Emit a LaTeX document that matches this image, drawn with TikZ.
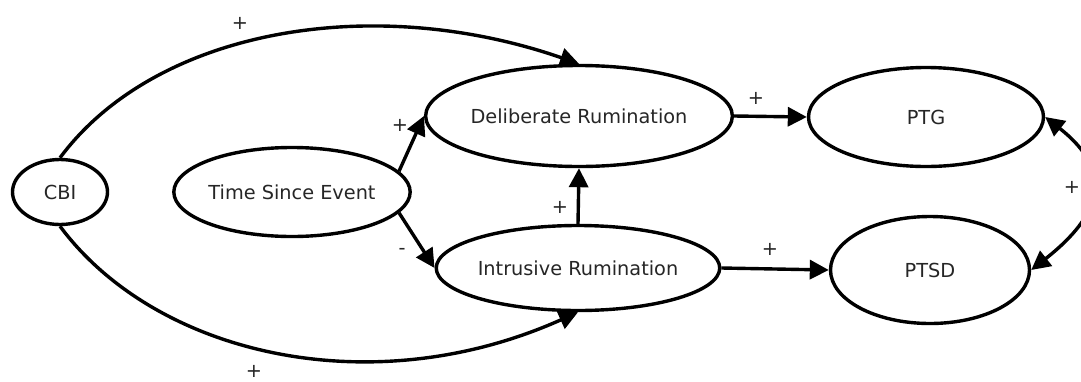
\documentclass[tikz,border=0pt]{standalone}
\usepackage{fontspec}
\setmainfont{DejaVu Sans}
\usetikzlibrary{arrows.meta,shapes.geometric}
\begin{document}
\begin{tikzpicture}[x=1pt,y=-1pt,
  every node/.style={font=\fontsize{19.3}{23}\selectfont, text=black!85},
  oval/.style={ellipse, draw=black, line width=3.4pt, inner sep=0pt},
  conn/.style={line width=3.4pt, -{Triangle[length=19pt,width=19pt]}},
  both/.style={line width=3.4pt, {Triangle[length=19pt,width=19pt]}-{Triangle[length=19pt,width=19pt]}},
  lbl/.style={inner sep=0pt}]
\fill[white] (0,0) rectangle (1081,381);
\useasboundingbox (0,0) rectangle (1081,381);
\node[oval, minimum width=95pt, minimum height=65pt] (cbi) at (60,192) {CBI};
\node[oval, minimum width=229pt, minimum height=89pt] (tse) at (292,192) {Time Since Event};
\node[oval, minimum width=277pt, minimum height=101pt] (dr) at (579,116) {Deliberate Rumination};
\node[oval, minimum width=279pt, minimum height=85pt] (ir) at (578,268) {Intrusive Rumination};
\node[oval, minimum width=235pt, minimum height=99pt] (ptg) at (926,117) {PTG};
\node[oval, minimum width=199pt, minimum height=107pt] (ptsd) at (930,270) {PTSD};
\draw[conn] (cbi.north) .. controls +(95,-128) and +(-208,-72) .. (dr.north);
\draw[conn] (cbi.south) .. controls +(95,128) and +(-208,93) .. (ir.south);
\draw[conn] (tse.11) -- (dr.west);
\draw[conn] (tse.-11) -- (ir.west);
\draw[conn] (ir.north) -- (dr.south);
\draw[conn] (dr.east) -- (ptg.west);
\draw[conn] (ir.east) -- (ptsd.west);
\draw[both] (ptg.east) .. controls +(70,55) and +(70,-55) .. (ptsd.east);
\node[lbl] (l1) at (240,23) {+};
\node[lbl] (l2) at (254,371) {+};
\node[lbl] (l3) at (400,125) {+};
\node[lbl] (l4) at (402,251) {-};
\node[lbl] (l5) at (560,207) {+};
\node[lbl] (l6) at (756,98) {+};
\node[lbl] (l7) at (770,249) {+};
\node[lbl] (l8) at (1072,187) {+};
\end{tikzpicture}
\end{document}
